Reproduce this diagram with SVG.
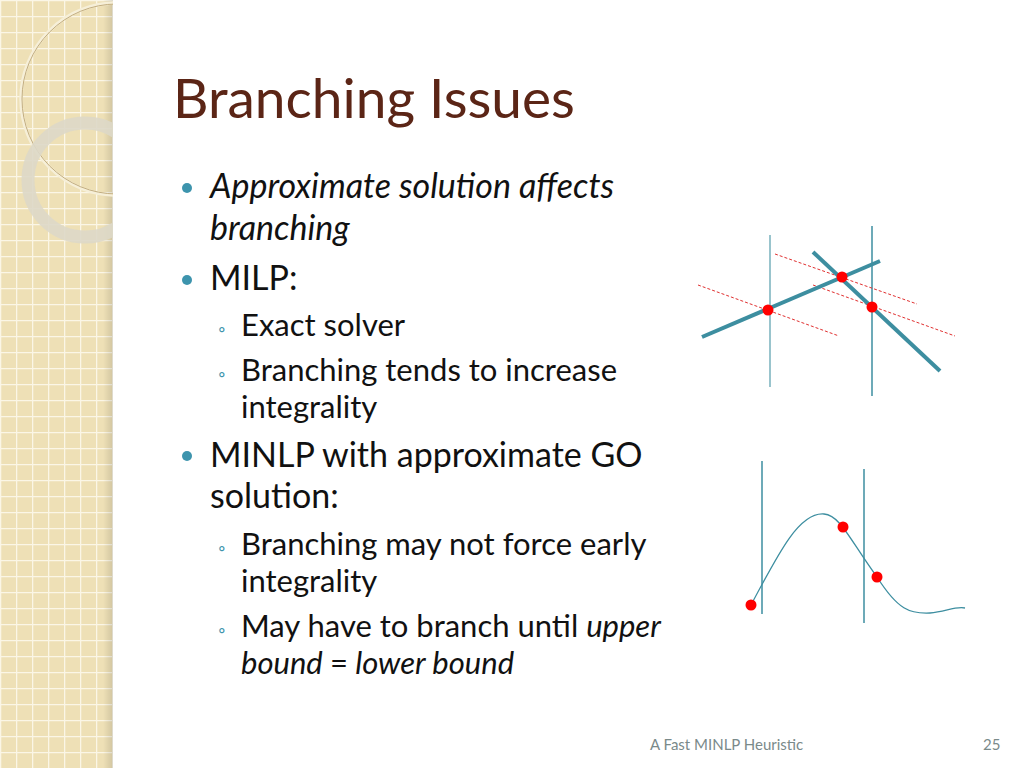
<svg xmlns="http://www.w3.org/2000/svg" width="1024" height="768" viewBox="0 0 1024 768">
<defs>
<pattern id="grid" width="16" height="16" patternUnits="userSpaceOnUse">
<rect width="16" height="16" fill="#eee0b6"/>
<path d="M0 0.5H16M0.5 0V16" stroke="#fbf6e6" stroke-width="1.6"/>
</pattern>
<linearGradient id="sh" x1="0" x2="1"><stop offset="0" stop-color="#000" stop-opacity="0"/><stop offset="1" stop-color="#000" stop-opacity="0.12"/></linearGradient>
<clipPath id="side"><rect width="113" height="768"/></clipPath>
</defs>
<style>
.t{font-family:Lato,"Open Sans",sans-serif;fill:#111}
.b{fill:#3d94ad}
.bs{font-family:Lato,sans-serif;font-size:19px;fill:#3d94ad}
.ax{stroke:#3d8ea0;stroke-width:1.5}
.th{stroke:#3d8ea0;stroke-width:4}
.dr{stroke:#e03030;stroke-width:1;stroke-dasharray:3 2}
.dot{fill:#f00}
</style>
<rect width="1024" height="768" fill="#fff"/>
<g id="sidebar">
<rect width="113" height="768" fill="url(#grid)"/>
<rect x="103" width="10" height="768" fill="url(#sh)"/>
<g clip-path="url(#side)">
<circle cx="117" cy="99" r="96" fill="none" stroke="#f6efd8" stroke-width="3.5"/>
<circle cx="117" cy="99" r="95" fill="none" stroke="#c2ad80" stroke-width="1"/>
<circle cx="85" cy="180" r="57" fill="none" stroke="#ddd8c8" stroke-opacity="0.9" stroke-width="13"/>
</g>
</g>
<g id="title"><text x="173" y="118" font-family="Lato,'Open Sans',sans-serif" font-size="55" fill="#5b2516">Branching Issues</text></g>
<g id="body">
<circle class="b" cx="187" cy="188" r="5"/>
<text class="t" x="210" y="198" font-size="34" font-style="italic">Approximate solution affects</text>
<text class="t" x="210" y="240" font-size="34" font-style="italic">branching</text>
<circle class="b" cx="187" cy="280" r="5"/>
<text class="t" x="210" y="290" font-size="34">MILP:</text>
<text class="bs" x="218" y="336">◦</text>
<text class="t" x="241" y="336" font-size="31">Exact solver</text>
<text class="bs" x="218" y="381">◦</text>
<text class="t" x="241" y="381" font-size="31">Branching tends to increase</text>
<text class="t" x="241" y="418" font-size="31">integrality</text>
<circle class="b" cx="187" cy="456" r="5"/>
<text class="t" x="210" y="467" font-size="34">MINLP with approximate GO</text>
<text class="t" x="210" y="508" font-size="34">solution:</text>
<text class="bs" x="218" y="555">◦</text>
<text class="t" x="241" y="555" font-size="31">Branching may not force early</text>
<text class="t" x="241" y="592" font-size="31">integrality</text>
<text class="bs" x="218" y="637">◦</text>
<text class="t" x="241" y="637" font-size="31">May have to branch until <tspan font-style="italic">upper</tspan></text>
<text class="t" x="241" y="674" font-size="31" font-style="italic">bound <tspan font-style="normal">=</tspan> lower bound</text>
</g>
<g id="footer">
<text x="650" y="750" font-family="Lato,sans-serif" font-size="15" fill="#7a8a8a">A Fast MINLP Heuristic</text>
<text x="983" y="750" font-family="Lato,sans-serif" font-size="15" fill="#7a8a8a">25</text>
</g>
<g id="plot1">
<line class="ax" x1="770" y1="235" x2="770" y2="387" stroke-opacity="0.7"/>
<line class="ax" x1="872" y1="226" x2="872" y2="396"/>
<line class="dr" x1="698" y1="285" x2="839" y2="336"/>
<line class="dr" x1="775" y1="254" x2="917" y2="304"/>
<line class="dr" x1="813" y1="285" x2="955" y2="336"/>
<line class="th" x1="702" y1="337" x2="880" y2="261"/>
<line class="th" x1="813" y1="252" x2="940" y2="371"/>
<circle class="dot" cx="768" cy="310" r="5.5"/>
<circle class="dot" cx="842" cy="277" r="5.5"/>
<circle class="dot" cx="872" cy="307" r="5.5"/>
</g>
<g id="plot2">
<line class="ax" x1="762" y1="461" x2="762" y2="614"/>
<line class="ax" x1="864" y1="469" x2="864" y2="623"/>
<path d="M751 605C780 550 800 512 824 514C840 515 850 540 877 577C898 610 910 614 930 613C945 612 955 606 965 608" fill="none" stroke="#3d8ea0" stroke-width="1.3"/>
<circle class="dot" cx="751" cy="605" r="5.5"/>
<circle class="dot" cx="843" cy="527" r="5.5"/>
<circle class="dot" cx="877" cy="577" r="5.5"/>
</g>
</svg>
